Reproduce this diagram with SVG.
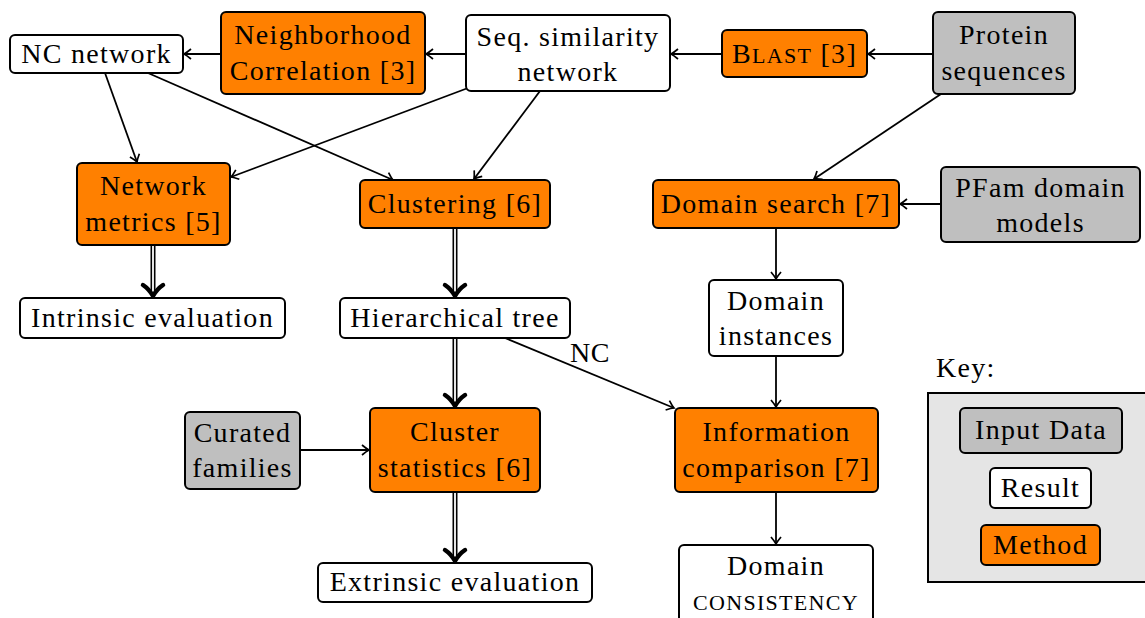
<svg xmlns="http://www.w3.org/2000/svg" width="1145" height="618" viewBox="0 0 1145 618">
<style>
text{font-size:28px;fill:#000;text-anchor:middle}
.box{stroke:#000;stroke-width:2}
.m{fill:#FF8000}.r{fill:#FFFFFF}.i{fill:#BFBFBF}
.c{fill:none;stroke:#000;stroke-width:1.8}
.dbo{fill:none;stroke:#000;stroke-width:5}
.dbi{fill:none;stroke:#fff;stroke-width:1.8}
.dh{fill:none;stroke:#000;stroke-width:4.5;stroke-linecap:round;stroke-linejoin:round}
</style>
<defs>
<marker id="a" markerUnits="userSpaceOnUse" markerWidth="20" markerHeight="20" viewBox="-10 -10 20 20" refX="0" refY="0" orient="auto">
<path d="M -7,-5 Q -2.5,-1.2 0,0 Q -2.5,1.2 -7,5" fill="none" stroke="#000" stroke-width="1.7"/>
</marker>
</defs>
<rect width="1145" height="618" fill="#fff"/>
<g id="key">
<rect x="928" y="393" width="230" height="189" fill="#E5E5E5" stroke="#000" stroke-width="2"/>
<text x="936" y="377" style="font-family:'Liberation Serif';letter-spacing:1.3px;text-anchor:start">Key:</text>
</g>

<g id="connectors">
<line class="c" x1="221" y1="54" x2="184" y2="54" marker-end="url(#a)"/>
<line class="c" x1="466" y1="54" x2="426" y2="54" marker-end="url(#a)"/>
<line class="c" x1="722" y1="54" x2="671" y2="54" marker-end="url(#a)"/>
<line class="c" x1="933" y1="54" x2="868" y2="54" marker-end="url(#a)"/>
<line class="c" x1="105" y1="73" x2="137" y2="162" marker-end="url(#a)"/>
<line class="c" x1="148" y1="73" x2="393" y2="180" marker-end="url(#a)"/>
<line class="c" x1="468" y1="88" x2="231" y2="177" marker-end="url(#a)"/>
<line class="c" x1="540" y1="91" x2="474" y2="179" marker-end="url(#a)"/>
<line class="c" x1="941" y1="94" x2="814" y2="179" marker-end="url(#a)"/>
<line class="c" x1="941" y1="204" x2="900" y2="204" marker-end="url(#a)"/>
<line class="c" x1="776" y1="228" x2="776" y2="279" marker-end="url(#a)"/>
<line class="c" x1="776" y1="356" x2="776" y2="407" marker-end="url(#a)"/>
<line class="c" x1="776" y1="492" x2="776" y2="544" marker-end="url(#a)"/>
<line class="c" x1="300" y1="450" x2="369" y2="450" marker-end="url(#a)"/>
<line class="c" x1="505" y1="338" x2="674" y2="408" marker-end="url(#a)"/>
<text x="590" y="362" style="font-family:'Liberation Serif';letter-spacing:0.5px">NC</text>

<path class="dbo" d="M153,245 V294"/><path class="dbi" d="M153,245 V292"/>
<path class="dh" d="M143,285 Q149,289 153,296 Q157,289 163,285"/>
<path class="dbo" d="M455,228 V294"/><path class="dbi" d="M455,228 V292"/>
<path class="dh" d="M445,285 Q451,289 455,296 Q459,289 465,285"/>
<path class="dbo" d="M455,338 V404"/><path class="dbi" d="M455,338 V402"/>
<path class="dh" d="M445,395 Q451,399 455,406 Q459,399 465,395"/>
<path class="dbo" d="M455,492 V559"/><path class="dbi" d="M455,492 V557"/>
<path class="dh" d="M445,550 Q451,554 455,561 Q459,554 465,550"/>
</g>

<g id="nc-network"><rect class="box r" x="10" y="35" width="173" height="38" rx="5"/><text x="96.5" y="63" style="font-family:'Liberation Serif';letter-spacing:1.3px">NC network</text></g>
<g id="neighborhood-correlation"><rect class="box m" x="221" y="12" width="204" height="82" rx="5"/><text x="323" y="44" style="font-family:'Liberation Serif';letter-spacing:1.3px">Neighborhood</text><text x="323" y="80" style="font-family:'Liberation Serif';letter-spacing:1.3px">Correlation [3]</text></g>
<g id="seq-similarity"><rect class="box r" x="466" y="15" width="204" height="76" rx="5"/><text x="568" y="46" style="font-family:'Liberation Serif';letter-spacing:1.3px">Seq. similarity</text><text x="568" y="81" style="font-family:'Liberation Serif';letter-spacing:1.3px">network</text></g>
<g id="blast"><rect class="box m" x="722" y="30" width="145" height="47" rx="5"/><text x="794.5" y="63" style="font-family:'Liberation Serif';letter-spacing:1.3px">B<tspan style="font-size:22px">LAST</tspan> [3]</text></g>
<g id="protein-sequences"><rect class="box i" x="933" y="12" width="142" height="82" rx="5"/><text x="1004" y="44" style="font-family:'Liberation Serif';letter-spacing:1.3px">Protein</text><text x="1004" y="80" style="font-family:'Liberation Serif';letter-spacing:1.3px">sequences</text></g>
<g id="network-metrics"><rect class="box m" x="77" y="163" width="153" height="82" rx="5"/><text x="153.5" y="195" style="font-family:'Liberation Serif';letter-spacing:1.3px">Network</text><text x="153.5" y="231" style="font-family:'Liberation Serif';letter-spacing:1.3px">metrics [5]</text></g>
<g id="clustering"><rect class="box m" x="360" y="180" width="190" height="48" rx="5"/><text x="455" y="213" style="font-family:'Liberation Serif';letter-spacing:1.3px">Clustering [6]</text></g>
<g id="domain-search"><rect class="box m" x="653" y="180" width="246" height="48" rx="5"/><text x="776" y="213" style="font-family:'Liberation Serif';letter-spacing:1.3px">Domain search [7]</text></g>
<g id="pfam"><rect class="box i" x="941" y="167" width="199" height="75" rx="5"/><text x="1040.5" y="197" style="font-family:'Liberation Serif';letter-spacing:1.3px">PFam domain</text><text x="1040.5" y="232" style="font-family:'Liberation Serif';letter-spacing:1.3px">models</text></g>
<g id="intrinsic"><rect class="box r" x="20" y="298" width="265" height="40" rx="5"/><text x="152.5" y="327" style="font-family:'Liberation Serif';letter-spacing:1.3px">Intrinsic evaluation</text></g>
<g id="hierarchical-tree"><rect class="box r" x="340" y="298" width="230" height="40" rx="5"/><text x="455" y="327" style="font-family:'Liberation Serif';letter-spacing:1.3px">Hierarchical tree</text></g>
<g id="domain-instances"><rect class="box r" x="709" y="280" width="134" height="76" rx="5"/><text x="776" y="310" style="font-family:'Liberation Serif';letter-spacing:1.3px">Domain</text><text x="776" y="345" style="font-family:'Liberation Serif';letter-spacing:1.3px">instances</text></g>
<g id="curated-families"><rect class="box i" x="185" y="412" width="115" height="77" rx="5"/><text x="242.5" y="442" style="font-family:'Liberation Serif';letter-spacing:1.3px">Curated</text><text x="242.5" y="477" style="font-family:'Liberation Serif';letter-spacing:1.3px">families</text></g>
<g id="cluster-statistics"><rect class="box m" x="370" y="408" width="170" height="84" rx="5"/><text x="455" y="441" style="font-family:'Liberation Serif';letter-spacing:1.3px">Cluster</text><text x="455" y="477" style="font-family:'Liberation Serif';letter-spacing:1.3px">statistics [6]</text></g>
<g id="information-comparison"><rect class="box m" x="675" y="408" width="203" height="84" rx="5"/><text x="776.5" y="441" style="font-family:'Liberation Serif';letter-spacing:1.3px">Information</text><text x="776.5" y="477" style="font-family:'Liberation Serif';letter-spacing:1.3px">comparison [7]</text></g>
<g id="extrinsic"><rect class="box r" x="318" y="563" width="274" height="39" rx="5"/><text x="455" y="591" style="font-family:'Liberation Serif';letter-spacing:1.3px">Extrinsic evaluation</text></g>
<g id="domain-consistency"><rect class="box r" x="679" y="545" width="194" height="85" rx="5"/><text x="776" y="575" style="font-family:'Liberation Serif';letter-spacing:1.3px">Domain</text><text x="776" y="610" style="font-family:'Liberation Serif';font-size:22px;letter-spacing:1.3px">CONSISTENCY</text></g>

<g id="key-input"><rect class="box i" x="960" y="408" width="162" height="45" rx="5"/><text x="1041" y="439" style="font-family:'Liberation Serif';letter-spacing:1.3px">Input Data</text></g>
<g id="key-result"><rect class="box r" x="990" y="468" width="101" height="40" rx="5"/><text x="1040.5" y="497" style="font-family:'Liberation Serif';letter-spacing:1.3px">Result</text></g>
<g id="key-method"><rect class="box m" x="981" y="525" width="119" height="40" rx="5"/><text x="1040.5" y="554" style="font-family:'Liberation Serif';letter-spacing:1.3px">Method</text></g>
</svg>
